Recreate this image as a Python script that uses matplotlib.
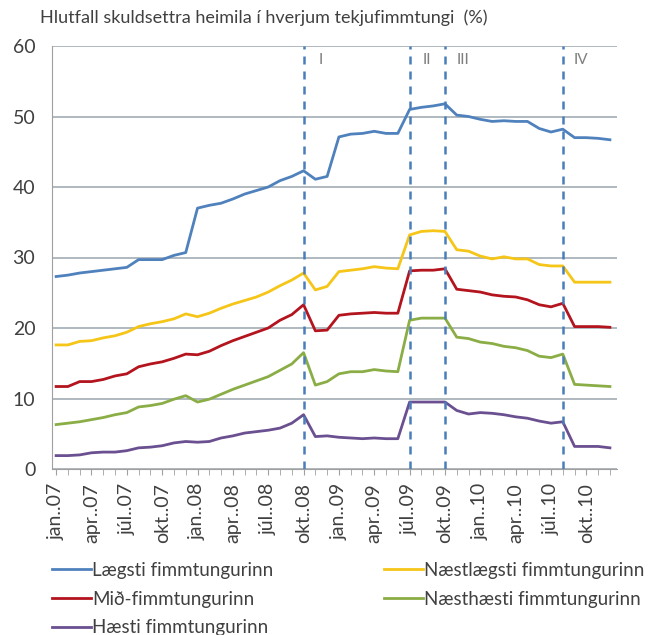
import matplotlib
matplotlib.use("Agg")
import matplotlib.pyplot as plt
import numpy as np

plt.rcParams['font.family'] = ['Lato', 'DejaVu Sans']

months_is = ["jan.", "feb.", "mar.", "apr.", "maí.", "jún.", "júl.", "ágú.", "sep.", "okt.", "nóv.", "des."]
years = ["07", "08", "09", "10"]
categories = [f"{m}.{y}" for y in years for m in months_is]

laegsti = [27.3, 27.5, 27.8, 28.0, 28.2, 28.4, 28.6, 29.7, 29.7, 29.7, 30.3, 30.7,
           37.0, 37.4, 37.7, 38.3, 39.0, 39.5, 40.0, 40.9, 41.5, 42.3, 41.1, 41.5,
           47.1, 47.5, 47.6, 47.9, 47.6, 47.6, 51.0, 51.3, 51.5, 51.8, 50.2, 50.0,
           49.6, 49.3, 49.4, 49.3, 49.3, 48.3, 47.8, 48.2, 47.0, 47.0, 46.9, 46.7]
naestlaegsti = [17.6, 17.6, 18.1, 18.2, 18.6, 18.9, 19.4, 20.2, 20.6, 20.9, 21.3, 22.0,
                21.6, 22.1, 22.8, 23.4, 23.9, 24.4, 25.1, 26.0, 26.8, 27.8, 25.4, 25.9,
                28.0, 28.2, 28.4, 28.7, 28.5, 28.4, 33.2, 33.7, 33.8, 33.7, 31.1, 30.9,
                30.2, 29.8, 30.1, 29.8, 29.8, 29.0, 28.8, 28.8, 26.5, 26.5, 26.5, 26.5]
mid = [11.7, 11.7, 12.4, 12.4, 12.7, 13.2, 13.5, 14.5, 14.9, 15.2, 15.7, 16.3,
       16.2, 16.7, 17.5, 18.2, 18.8, 19.4, 20.0, 21.1, 21.9, 23.3, 19.6, 19.7,
       21.8, 22.0, 22.1, 22.2, 22.1, 22.1, 28.1, 28.2, 28.2, 28.4, 25.5, 25.3,
       25.1, 24.7, 24.5, 24.4, 24.0, 23.3, 23.0, 23.5, 20.2, 20.2, 20.2, 20.1]
naesthaesti = [6.3, 6.5, 6.7, 7.0, 7.3, 7.7, 8.0, 8.8, 9.0, 9.3, 9.9, 10.4,
               9.5, 9.9, 10.6, 11.3, 11.9, 12.5, 13.1, 14.0, 14.9, 16.5, 11.9, 12.4,
               13.5, 13.8, 13.8, 14.1, 13.9, 13.8, 21.1, 21.4, 21.4, 21.4, 18.7, 18.5,
               18.0, 17.8, 17.4, 17.2, 16.8, 16.0, 15.8, 16.3, 12.0, 11.9, 11.8, 11.7]
haesti = [1.9, 1.9, 2.0, 2.3, 2.4, 2.4, 2.6, 3.0, 3.1, 3.3, 3.7, 3.9,
          3.8, 3.9, 4.4, 4.7, 5.1, 5.3, 5.5, 5.8, 6.5, 7.7, 4.6, 4.7,
          4.5, 4.4, 4.3, 4.4, 4.3, 4.3, 9.5, 9.5, 9.5, 9.5, 8.3, 7.8,
          8.0, 7.9, 7.7, 7.4, 7.2, 6.8, 6.5, 6.7, 3.2, 3.2, 3.2, 3.0]

series_names = ["Lægsti fimmtungurinn", "Næstlægsti fimmtungurinn", "Mið-fimmtungurinn",
                "Næsthæsti fimmtungurinn", "Hæsti fimmtungurinn"]
series_colors = ["#4f81bd", "#f5c518", "#b3141e", "#8aad45", "#6a5090"]

event_months = ["okt..08", "júl..09", "okt..09", "ágú..10"]
event_labels = ["I", "II", "III", "IV"]

fig = plt.figure(figsize=(6.68, 6.35), dpi=100)
ax = fig.add_axes([52/668, 1 - 469/635, (617-52)/668, (469-46)/635])

x = np.arange(len(categories))
data = [laegsti, naestlaegsti, mid, naesthaesti, haesti]
lines = {}
for name, vals, col in zip(series_names, data, series_colors):
    ln, = ax.plot(x, vals, color=col, lw=2.0, solid_joinstyle='round', zorder=3)
    lines[name] = ln

for m, lab in zip(event_months, event_labels):
    xi = categories.index(m)
    ax.axvline(xi, color="#4a7ebb", lw=1.8, ls=(0, (3.2, 2.8)), zorder=4)
    ax.text(xi + 1.5, 58.0, lab, color="#7f7f7f", fontsize=11, ha='center', va='center')

ax.set_ylim(0, 60)
ax.set_xlim(-0.35, 47.6)
ax.set_yticks(range(0, 61, 10))
ax.yaxis.grid(True, color="#9aa5ae", lw=1.1)
ax.set_axisbelow(True)
ax.tick_params(axis='y', length=0, labelsize=14, colors="#404040", pad=12)

major = x[::3]
ax.set_xticks(major)
ax.set_xticklabels([categories[i] for i in major], rotation=90, fontsize=14, color="#404040")
ax.set_xticks(x, minor=True)
ax.tick_params(axis='x', which='both', direction='out', length=4, color="#a0a0a0", pad=6)

for s in ["top", "right"]:
    ax.spines[s].set_visible(False)
ax.spines["left"].set_color("#a0a0a0")
ax.spines["bottom"].set_color("#a0a0a0")

fig.text(40/668, 1 - 18/635, "Hlutfall skuldsettra heimila í hverjum tekjufimmtungi  (%)",
         fontsize=13, color="#404040", ha='left', va='center')

order = [series_names[0], series_names[2], series_names[4], series_names[1], series_names[3]]
fig.legend([lines[n] for n in order], order, ncol=2, loc='upper left',
           bbox_to_anchor=(35/668, 1 - 545/635), frameon=False, fontsize=13.5,
           handlelength=2.1, handletextpad=0.05, columnspacing=5.9, labelspacing=0.62,
           labelcolor="#404040")

fig.savefig("out.png", dpi=100)
